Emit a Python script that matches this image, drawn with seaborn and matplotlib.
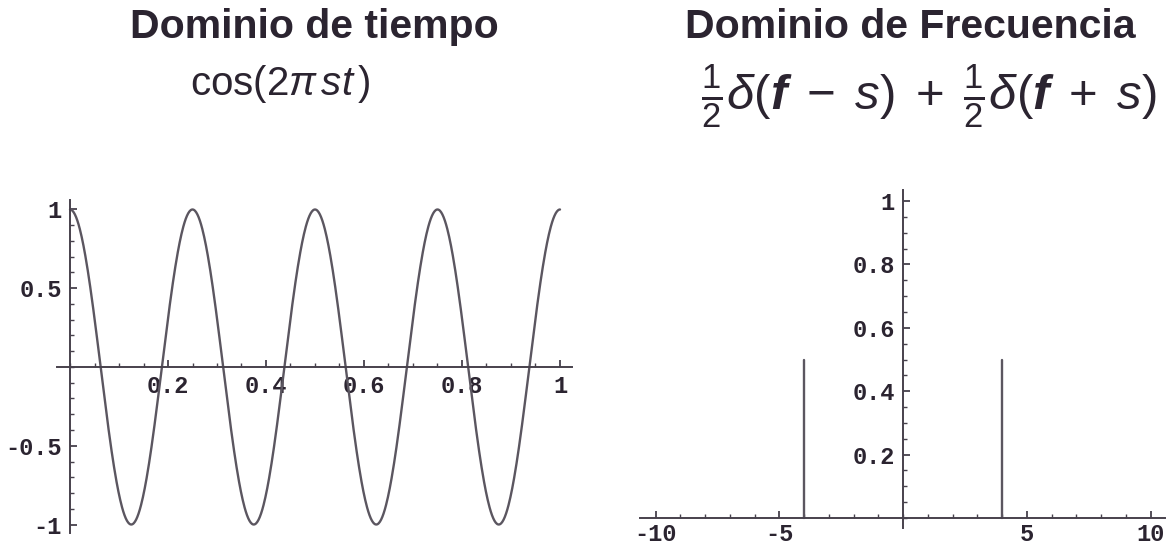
import numpy as np
import pandas as pd
import matplotlib
matplotlib.use("Agg")
import matplotlib.pyplot as plt
from matplotlib.ticker import MultipleLocator
import seaborn as sns

# Signal: cos(2*pi*s*t) with s = 4 cycles per unit time
freq_s = 4
t_start, t_end = 0.0, 1.0
n_samples = 801

# Spectrum: two impulses of weight 1/2 at f = -s and f = +s
impulse_freqs = [-4, 4]
impulse_weights = [0.5, 0.5]

time_ticks = [0.2, 0.4, 0.6, 0.8, 1]
time_tick_labels = ["0.2", "0.4", "0.6", "0.8", "1"]
amp_ticks = [-1, -0.5, 0.5, 1]
amp_tick_labels = ["-1", "-0.5", "0.5", "1"]
freq_ticks = [-10, -5, 5, 10]
freq_tick_labels = ["-10", "-5", "5", "10"]
spec_ticks = [0.2, 0.4, 0.6, 0.8, 1]
spec_tick_labels = ["0.2", "0.4", "0.6", "0.8", "1"]

sns.set_style("white")
plt.rcParams["font.family"] = ["Liberation Sans", "DejaVu Sans"]
plt.rcParams["mathtext.fontset"] = "custom"
plt.rcParams["mathtext.rm"] = "Liberation Sans"
plt.rcParams["mathtext.it"] = "Liberation Sans:italic"
plt.rcParams["mathtext.bf"] = "Liberation Sans:bold"
plt.rcParams["mathtext.bfit"] = "Liberation Sans:bold:italic"

W, H = 1171, 546
TEXT = "#2b2430"
AXIS = "#47414c"
CURVE = "#5b5660"
TICK_FONT = dict(family="Liberation Mono", weight="bold", size=17, color=TEXT)

fig = plt.figure(figsize=(W / 100, H / 100), dpi=100)
fig.patch.set_facecolor("white")


def axes_px(left, top, right, bottom):
    return fig.add_axes([left / W, 1 - bottom / H, (right - left) / W, (bottom - top) / H])


def style_axes(ax):
    for side in ("top", "right"):
        ax.spines[side].set_visible(False)
    for side in ("left", "bottom"):
        ax.spines[side].set_position(("data", 0))
        ax.spines[side].set_color(AXIS)
        ax.spines[side].set_linewidth(1.4)
    ax.set_facecolor("none")
    ax.xaxis.set_ticks_position("bottom")
    ax.yaxis.set_ticks_position("left")
    ax.tick_params(which="major", direction="in", length=5, width=1.3, color=AXIS, pad=6)
    ax.tick_params(which="minor", direction="in", length=3, width=1.0, color=AXIS)
    ax.set_xlabel("")
    ax.set_ylabel("")


# ---- time domain ----
ax1 = axes_px(57, 200, 572, 533)
t = np.linspace(t_start, t_end, n_samples)
signal = pd.DataFrame({"t": t, "y": np.cos(2 * np.pi * freq_s * t)})
sns.lineplot(data=signal, x="t", y="y", ax=ax1, color=CURVE, linewidth=1.7)
ax1.set_xlim((57 - 70) / 490, (572 - 70) / 490)
ax1.set_ylim((367 - 533) / 157.5, (367 - 200) / 157.5)
style_axes(ax1)
ax1.set_xticks(time_ticks)
ax1.set_xticklabels(time_tick_labels, fontdict=TICK_FONT)
ax1.set_yticks(amp_ticks)
ax1.set_yticklabels(amp_tick_labels, fontdict=TICK_FONT)
ax1.xaxis.set_minor_locator(MultipleLocator(0.05))
ax1.yaxis.set_minor_locator(MultipleLocator(0.1))

# ---- frequency domain ----
ax2 = axes_px(640, 190, 1165, 528)
rows = []
for k, (f, w) in enumerate(zip(impulse_freqs, impulse_weights)):
    rows.append({"f": f, "amp": 0.0, "impulse": k})
    rows.append({"f": f, "amp": w, "impulse": k})
spectrum = pd.DataFrame(rows)
sns.lineplot(data=spectrum, x="f", y="amp", units="impulse", estimator=None,
             ax=ax2, color=CURVE, linewidth=1.7, sort=False)
ax2.set_xlim((640 - 903) / 24.75, (1165 - 903) / 24.75)
ax2.set_ylim((518 - 528) / 317, (518 - 190) / 317)
style_axes(ax2)
ax2.tick_params(axis="x", which="major", pad=3.5)
ax2.set_xticks(freq_ticks)
ax2.set_xticklabels(freq_tick_labels, fontdict=TICK_FONT)
ax2.set_yticks(spec_ticks)
ax2.set_yticklabels(spec_tick_labels, fontdict=TICK_FONT)
ax2.xaxis.set_minor_locator(MultipleLocator(1))
ax2.yaxis.set_minor_locator(MultipleLocator(0.05))

# ---- headings ----
fig.text(314 / W, 1 - 27 / H, "Dominio de tiempo", ha="center", va="center",
         fontsize=29.5, fontweight="bold", color=TEXT)
fig.text(910 / W, 1 - 27 / H, "Dominio de Frecuencia", ha="center", va="center",
         fontsize=29.5, fontweight="bold", color=TEXT)
fig.text(280 / W, 1 - 84 / H, r"$\mathrm{cos}(2\pi\,st\,)$", ha="center", va="center",
         fontsize=29, color=TEXT)
fig.text(929 / W, 1 - 97 / H,
         r"$\frac{1}{2}\delta(\mathbfit{f}\;-\;s)\;+\;\frac{1}{2}\delta(\mathbfit{f}\;+\;s)$",
         ha="center", va="center", fontsize=35.5, color=TEXT)

fig.savefig("out.png", dpi=100, facecolor="white")
